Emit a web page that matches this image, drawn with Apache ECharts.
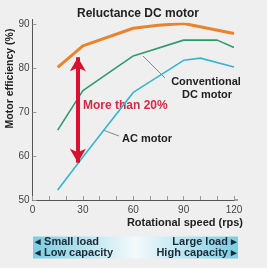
<!DOCTYPE html>
<html><head><meta charset="utf-8">
<script src="https://cdn.jsdelivr.net/npm/echarts@6/dist/echarts.min.js"></script>
<style>html,body{margin:0;padding:0;background:#fff}#c{width:270px;height:273px}</style>
</head><body><div id="c"></div>
<script>
// Data
var reluctanceX = [15, 30, 60, 75, 90, 120];
var reluctanceY = [80.2, 85.1, 89.1, 89.8, 90.2, 87.9];
var conventionalX = [15, 30, 60, 90, 110, 120];
var conventionalY = [65.9, 74.9, 82.8, 86.4, 86.4, 84.7];
var acX = [15, 30, 60, 90, 100, 120];
var acY = [52.3, 59.8, 74.5, 81.8, 82.3, 80.3];
var xTickLabels = [0, 30, 60, 90, 120];
var yTickLabels = [50, 60, 70, 80, 90];
var arrowX = 27, arrowTop = 82.5, arrowBottom = 58.5;

function pairs(xs, ys){ return xs.map(function(x,i){return [x, ys[i]];}); }
var F = '"Liberation Sans", Arial, sans-serif';
var FN = '"Liberation Sans Narrow", "Liberation Sans", Arial, sans-serif';

var chart = echarts.init(document.getElementById('c'), null, {renderer:'canvas'});
chart.setOption({
  animation:false,
  backgroundColor:'#fff',
  grid:{left:32.5, right:36, top:24.3, bottom:73, containLabel:false},
  xAxis:{type:'value', min:0, max:120, interval:10,
    axisLine:{show:true, lineStyle:{color:'#555', width:1}},
    axisTick:{show:true, inside:true, length:4, lineStyle:{color:'#999'}},
    splitLine:{show:false},
    axisLabel:{color:'#444', fontSize:10, fontFamily:FN, margin:5,
      formatter:function(v){ return xTickLabels.indexOf(v) >= 0 ? String(v) : ''; }}
  },
  yAxis:{type:'value', min:50, max:90, interval:10,
    axisLine:{show:true, lineStyle:{color:'#555', width:1}},
    axisTick:{show:true, inside:true, length:4, lineStyle:{color:'#999'}},
    splitLine:{show:false},
    axisLabel:{color:'#444', fontSize:10, fontFamily:FN, margin:3,
      formatter:function(v){ return yTickLabels.indexOf(v) >= 0 ? String(v) : ''; }}
  },
  graphic:[
    {type:'rect', z:-10, silent:true, shape:{x:0, y:0, width:267, height:268}, style:{fill:'#efefef'}},
    {type:'line', shape:{x1:32.5, y1:19, x2:32.5, y2:25}, style:{stroke:'#555', lineWidth:1}},
    {type:'line', shape:{x1:234, y1:200, x2:238, y2:200}, style:{stroke:'#555', lineWidth:1}},
    {type:'text', position:[138,14], style:{text:'Reluctance DC motor', font:'bold 12px '+F, fill:'#222', textAlign:'center', textVerticalAlign:'middle'}},
    {type:'text', position:[10,78.5], rotation:Math.PI/2, style:{text:'Motor efficiency (%)', font:'bold 10.5px '+F, fill:'#222', textAlign:'center', textVerticalAlign:'middle'}},
    {type:'text', position:[243,223], style:{text:'Rotational speed (rps)', font:'bold 11px '+F, fill:'#222', textAlign:'right', textVerticalAlign:'middle'}},
    {type:'text', position:[206,82], style:{text:'Conventional', font:'bold 11px '+F, fill:'#222', textAlign:'center', textVerticalAlign:'middle'}},
    {type:'text', position:[207,95], style:{text:'DC motor', font:'bold 11px '+F, fill:'#222', textAlign:'center', textVerticalAlign:'middle'}},
    {type:'text', position:[122,139], style:{text:'AC motor', font:'bold 11px '+F, fill:'#222', textAlign:'left', textVerticalAlign:'middle'}},
    {type:'text', position:[83,106], style:{text:'More than 20%', font:'bold 12px '+F, fill:'#d42a45', textAlign:'left', textVerticalAlign:'middle'}},
    {type:'line', shape:{x1:143, y1:56, x2:165, y2:78}, style:{stroke:'#888', lineWidth:1}},
    {type:'line', shape:{x1:103, y1:130, x2:119, y2:136}, style:{stroke:'#888', lineWidth:1}},
    {type:'rect', shape:{x:33, y:236.5, width:205, height:22},
      style:{fill:new echarts.graphic.LinearGradient(0,0,1,0,[
        {offset:0, color:'#7ccde0'}, {offset:0.5, color:'#f3fafc'}, {offset:1, color:'#7ccde0'}])}},
    {type:'text', position:[35,242], style:{text:'\u25C2 Small load', font:'bold 11px '+F, fill:'#1c2a3a', textAlign:'left', textVerticalAlign:'middle'}},
    {type:'text', position:[35,253], style:{text:'\u25C2 Low capacity', font:'bold 11px '+F, fill:'#1c2a3a', textAlign:'left', textVerticalAlign:'middle'}},
    {type:'text', position:[237,242], style:{text:'Large load \u25B8', font:'bold 11px '+F, fill:'#1c2a3a', textAlign:'right', textVerticalAlign:'middle'}},
    {type:'text', position:[237,253], style:{text:'High capacity \u25B8', font:'bold 11px '+F, fill:'#1c2a3a', textAlign:'right', textVerticalAlign:'middle'}}
  ],
  series:[
    {name:'AC motor', type:'line', data:pairs(acX, acY), showSymbol:false,
      lineStyle:{color:'#34b6cf', width:1.6}},
    {name:'Conventional DC motor', type:'line', data:pairs(conventionalX, conventionalY), showSymbol:false,
      lineStyle:{color:'#2f9b6c', width:1.6}},
    {name:'Reluctance DC motor', type:'line', data:pairs(reluctanceX, reluctanceY), showSymbol:false,
      lineStyle:{color:'#e8842c', width:3}},
    {name:'arrow', type:'line', data:[], z:5,
      markLine:{silent:true, symbol:['arrow','arrow'], symbolSize:[12,14], label:{show:false},
        lineStyle:{color:'#d7112e', width:4, type:'solid'},
        data:[[{coord:[arrowX, arrowTop]}, {coord:[arrowX, arrowBottom]}]]}}
  ]
});
</script></body></html>
